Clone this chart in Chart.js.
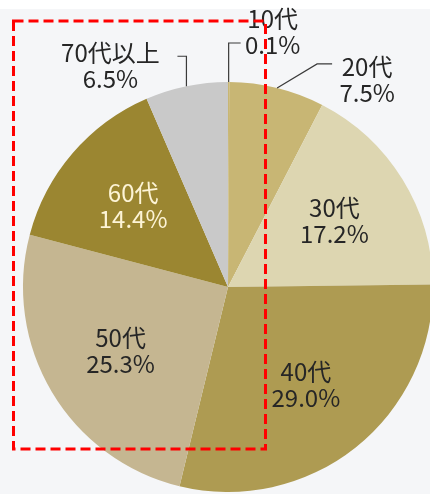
<!DOCTYPE html>
<html>
<head>
<meta charset="utf-8">
<script src="https://cdn.jsdelivr.net/npm/chart.js@4/dist/chart.umd.min.js"></script>
<style>
  html, body { margin: 0; padding: 0; overflow: hidden; background: #f5f6f8; }
  canvas { display: block; }
</style>
</head>
<body>
<canvas id="ageChart" width="440" height="494"></canvas>
<script>
const ageGroups = ['10代', '20代', '30代', '40代', '50代', '60代', '70代以上'];
const shares = [0.1, 7.5, 17.2, 29.0, 25.3, 14.4, 6.5];

const sliceColors = ['#c8b674', '#c8b674', '#ddd6b1', '#ae9b52', '#c5b691', '#9b8631', '#c9c9c9'];

// where each label goes: inside the slice, or outside with an elbow leader
const labelStyle = {
    '10代':    { outside: true, elbow: [0, -39], end: [12, -39], text: [32, -24] },
    '20代':    { outside: true, elbow: [40, -24], end: [55, -24], text: [35, 3] },
    '70代以上': { outside: true, elbow: [0, -30], end: [-9, -30], text: [-67, -3] },
    '60代':    { color: '#fdf4d6' }
};

const pieLabels = {
    id: 'pieLabels',
    beforeDraw(chart) {
        const ctx = chart.ctx;
        ctx.save();
        ctx.fillStyle = '#f5f6f8';
        ctx.fillRect(0, 0, chart.width, chart.height);
        ctx.fillStyle = '#ffffff';
        ctx.fillRect(0, 0, chart.width, 9);
        ctx.restore();
    },
    afterDatasetsDraw(chart) {
        const ctx = chart.ctx;
        const arcs = chart.getDatasetMeta(0).data;
        ctx.save();
        ctx.font = '24px "Noto Sans CJK JP", "Noto Sans", sans-serif';
        ctx.textAlign = 'center';
        ctx.textBaseline = 'middle';
        arcs.forEach((arc, i) => {
            const name = ageGroups[i];
            const style = labelStyle[name] || {};
            const mid = (arc.startAngle + arc.endAngle) / 2;
            const pct = shares[i].toFixed(1) + '%';
            ctx.fillStyle = style.color || '#262626';
            if (style.outside) {
                const ax = arc.x + Math.cos(mid) * arc.outerRadius;
                const ay = arc.y + Math.sin(mid) * arc.outerRadius;
                const ex = ax + style.end[0], ey = ay + style.end[1];
                ctx.strokeStyle = '#3a3a3a';
                ctx.lineWidth = 1.2;
                ctx.beginPath();
                ctx.moveTo(ax, ay);
                ctx.lineTo(ax + style.elbow[0], ay + style.elbow[1]);
                ctx.lineTo(ex, ey);
                ctx.stroke();
                const tx = ex + style.text[0], ty = ey + style.text[1];
                ctx.fillText(name, tx, ty);
                ctx.fillText(pct, tx, ty + 26);
            } else {
                const r = arc.outerRadius * 0.61;
                const tx = arc.x + Math.cos(mid) * r;
                const ty = arc.y + Math.sin(mid) * r;
                ctx.fillText(name, tx, ty - 13);
                ctx.fillText(pct, tx, ty + 13);
            }
        });

        // red dashed highlight box
        ctx.strokeStyle = '#ff0000';
        ctx.lineWidth = 3;
        ctx.setLineDash([10, 5]);
        ctx.strokeRect(13.5, 21, 252, 428);
        ctx.restore();
    }
};

new Chart(document.getElementById('ageChart').getContext('2d'), {
    type: 'pie',
    data: {
        labels: ageGroups,
        datasets: [{
            data: shares,
            backgroundColor: sliceColors,
            borderWidth: 0
        }]
    },
    options: {
        responsive: false,
        animation: false,
        layout: { padding: { left: 23, right: 7, top: 82, bottom: 2 } },
        plugins: {
            legend: { display: false },
            tooltip: { enabled: false }
        }
    },
    plugins: [pieLabels]
});
</script>
</body>
</html>
